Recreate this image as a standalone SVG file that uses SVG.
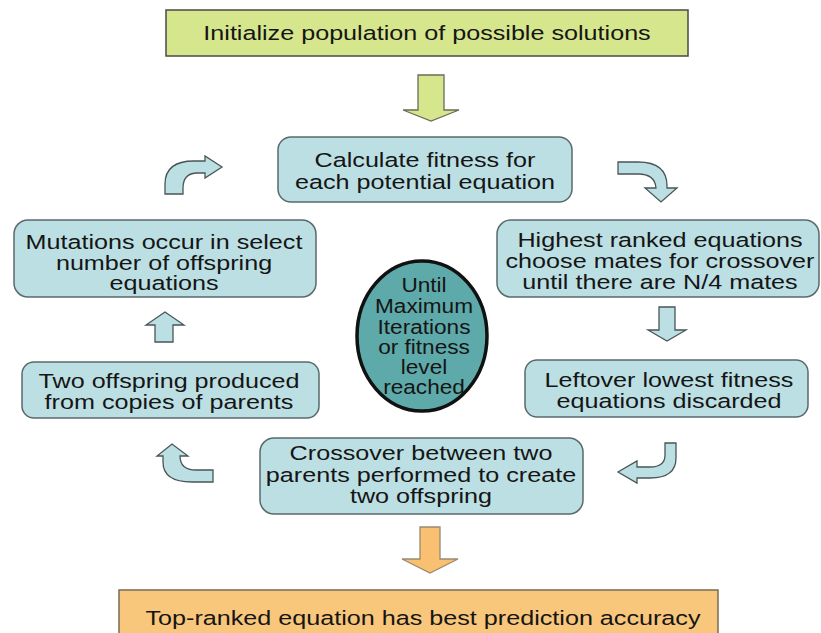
<svg xmlns="http://www.w3.org/2000/svg" width="821" height="633" viewBox="0 0 821 633">
<style>
  .t { font-family: "Liberation Sans", Arial, sans-serif; font-size: 19.5px; fill: #151515; text-anchor: middle; }
  .box { fill: #bcdfe4; stroke: #5a6a6c; stroke-width: 1.5; }
  .green { fill: #d5e68c; stroke: #4a4a4a; stroke-width: 1.5; }
  .orange { fill: #f9c77b; stroke: #7a6a55; stroke-width: 1.5; }
  .arr { fill: #bcdfe4; stroke: #4a5656; stroke-width: 1.3; stroke-linejoin: miter; }
  .garr { fill: #d5e68c; stroke: #6b6b5a; stroke-width: 1.3; }
  .oarr { fill: #f8c070; stroke: #9a8a70; stroke-width: 1.3; }
  .ell { fill: #5ea9a9; stroke: #111; stroke-width: 3.5; }
</style>
<rect width="821" height="633" fill="#ffffff"/>

<g id="connectors">
  <!-- green down arrow -->
  <path class="garr" d="M418,75 L444,75 L444,110 L459,110 L431,121 L403,110 L418,110 Z"/>
  <!-- top-left curved (up then right) -->
  <path class="arr" d="M165,194 L165,184 Q165,161 194,161 L205,161 L205,156 L222,167 L205,178 L205,173 L196,173 Q183,174 183,188 L183,194 Z"/>
  <!-- top-right curved (right then down) -->
  <path class="arr" d="M618,162 L638,162 Q667,162 667,186 L667,188 L677,188 L661,202 L645,188 L656,188 Q655,174 638,174 L618,174 Z"/>
  <!-- right down arrow -->
  <path class="arr" d="M659,307 L675,307 L675,330 L686,330 L667,341 L648,330 L659,330 Z"/>
  <!-- bottom-right curved (down then left) -->
  <path class="arr" d="M665,443 L676,443 L676,458 Q676,478 650,478 L637,478 L637,483 L618,472 L637,461 L637,467 L650,467 Q665,467 665,455 Z"/>
  <!-- bottom-left curved (left then up) -->
  <path class="arr" d="M213,470 L196,470 Q180,470 180,456 L188,456 L172,444 L157,456 L163,456 L163,462 Q163,482 192,482 L213,482 Z"/>
  <!-- left up arrow -->
  <path class="arr" d="M155,342 L173,342 L173,325 L184,325 L165,312 L146,325 L155,325 Z"/>
  <!-- orange down arrow -->
  <path class="oarr" d="M420,527 L440,527 L440,559 L458,559 L430,573 L402,559 L420,559 Z"/>
</g>

<g id="init">
  <rect class="green" x="166" y="10" width="522" height="46"/>
  <text class="t" transform="translate(427 0) scale(1.29 1)"><tspan x="0" y="40">Initialize population of possible solutions</tspan></text>
</g>

<g id="calc">
  <rect class="box" x="278" y="137" width="294" height="65" rx="13"/>
  <text class="t" transform="translate(425 0) scale(1.29 1)"><tspan x="0" y="167">Calculate fitness for</tspan><tspan x="0" y="189">each potential equation</tspan></text>
</g>

<g id="highest">
  <rect class="box" x="497" y="220" width="322" height="77" rx="14"/>
  <text class="t" transform="translate(660 0) scale(1.29 1)"><tspan x="0" y="247">Highest ranked equations</tspan><tspan x="0" y="268">choose mates for crossover</tspan><tspan x="0" y="289">until there are N/4 mates</tspan></text>
</g>

<g id="leftover">
  <rect class="box" x="525" y="360" width="283" height="57" rx="12"/>
  <text class="t" transform="translate(669 0) scale(1.29 1)"><tspan x="0" y="387">Leftover lowest fitness</tspan><tspan x="0" y="408">equations discarded</tspan></text>
</g>

<g id="crossover">
  <rect class="box" x="260" y="438" width="323" height="76" rx="14"/>
  <text class="t" transform="translate(421 0) scale(1.29 1)"><tspan x="0" y="460">Crossover between two</tspan><tspan x="0" y="482">parents performed to create</tspan><tspan x="0" y="503">two offspring</tspan></text>
</g>

<g id="twooffspring">
  <rect class="box" x="22" y="362" width="297" height="56" rx="12"/>
  <text class="t" transform="translate(169 0) scale(1.29 1)"><tspan x="0" y="388">Two offspring produced</tspan><tspan x="0" y="409">from copies of parents</tspan></text>
</g>

<g id="mutations">
  <rect class="box" x="14" y="220" width="302" height="77" rx="14"/>
  <text class="t" transform="translate(164 0) scale(1.29 1)"><tspan x="0" y="249">Mutations occur in select</tspan><tspan x="0" y="270">number of offspring</tspan><tspan x="0" y="290">equations</tspan></text>
</g>

<g id="until">
  <ellipse class="ell" cx="422" cy="336" rx="65" ry="75"/>
  <text class="t" transform="translate(424 0) scale(1.16 1)"><tspan x="0" y="292">Until</tspan><tspan x="0" y="313">Maximum</tspan><tspan x="0" y="334">Iterations</tspan><tspan x="0" y="354">or fitness</tspan><tspan x="0" y="374">level</tspan><tspan x="0" y="394">reached</tspan></text>
</g>

<g id="result">
  <rect class="orange" x="119" y="590" width="599" height="50"/>
  <text class="t" transform="translate(423 0) scale(1.29 1)"><tspan x="0" y="625">Top-ranked equation has best prediction accuracy</tspan></text>
</g>
</svg>
